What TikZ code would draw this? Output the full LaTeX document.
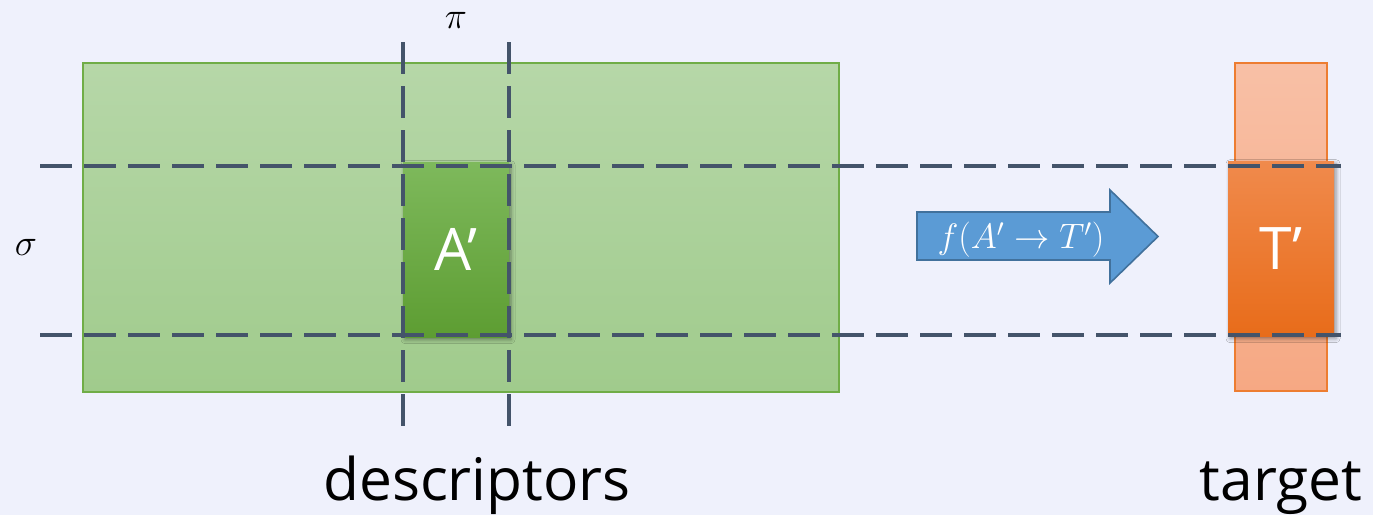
\RequirePackage{fix-cm}
\documentclass[tikz,border=0pt]{standalone}
\usepackage{amsmath}
\usepackage{fontspec}
\setmainfont{Open Sans}
\usetikzlibrary{shadows.blur}
\definecolor{bgcol}{RGB}{239,241,252}
\definecolor{guidecol}{RGB}{68,84,106}
\definecolor{greenedge}{RGB}{112,173,71}
\definecolor{orangeedge}{RGB}{237,125,49}
\definecolor{arrowfill}{RGB}{91,155,213}
\definecolor{arrowedge}{RGB}{65,113,156}

\tikzset{
  guide/.style={draw=guidecol, line width=3pt, dash pattern={on 24pt off 9pt}},
  cell/.style={minimum width=79.5pt, minimum height=131.25pt, inner sep=0pt,
    text=white, font=\fontsize{44}{50}\selectfont,
    blur shadow={shadow xshift=1.5pt, shadow yshift=-2pt, shadow blur radius=3pt, shadow opacity=40}},
  caption/.style={anchor=base, inner sep=0pt, font=\fontsize{44}{50}\selectfont},
  greek/.style={inner sep=0pt, font=\fontsize{28}{32}\selectfont}
}

\begin{document}
\begin{tikzpicture}[x=0.75pt,y=0.75pt,yscale=-1,xscale=1]
	\useasboundingbox (0,0) rectangle (1373,515);
	\fill [bgcol] (0,0) rectangle (1373,515);

	% descriptor matrix
	\draw [greenedge, line width=1pt, top color={rgb,255:red,182;green,215;blue,168}, bottom color={rgb,255:red,160;green,203;blue,140}] (83,63) rectangle (839,392);
	% target column
	\draw [orangeedge, line width=0.9pt, top color={rgb,255:red,248;green,192;blue,166}, bottom color={rgb,255:red,246;green,168;blue,131}] (1235,63) rectangle (1327,391);

	% selected blocks
	\node [cell, top color={rgb,255:red,126;green,185;blue,92}, bottom color={rgb,255:red,93;green,157;blue,50}] (aprime) at (456,249.5) {A’};
	\node [cell, top color={rgb,255:red,240;green,138;blue,76}, bottom color={rgb,255:red,232;green,108;blue,26}] (tprime) at (1281,248.5) {T’};

	% mapping arrow
	\draw [arrowedge, line width=1.2pt, fill=arrowfill] (917,212) -- (1110,212) -- (1110,190) -- (1158,236.5) -- (1110,283) -- (1110,260) -- (917,260) -- cycle;
	\node [text=white, inner sep=0pt, font=\fontsize{26.5}{30}\selectfont] (map) at (1021,240) {$f(A'\to T')$};

	% window guides
	\coordinate (sl) at (40,166);
	\coordinate (sr) at (1341,166);
	\coordinate (sbl) at (40,335);
	\coordinate (sbr) at (1341,335);
	\coordinate (pl) at (403,42);
	\coordinate (plb) at (403,426);
	\coordinate (pr) at (509,42);
	\coordinate (prb) at (509,426);
	\draw [guide] (sl) -- (sr);
	\draw [guide] (sbl) -- (sbr);
	\draw [guide] (pl) -- (plb);
	\draw [guide] (pr) -- (prb);

	% Text Node
	\node [greek] (pi) at (456,20) {$\pi$};
	% Text Node
	\node [greek] (sigma) at (26,247) {$\sigma$};
	% Text Node
	\node [caption] (desc) at (477,500) {descriptors};
	% Text Node
	\node [caption] (targ) at (1281,500) {target};
\end{tikzpicture}
\end{document}
